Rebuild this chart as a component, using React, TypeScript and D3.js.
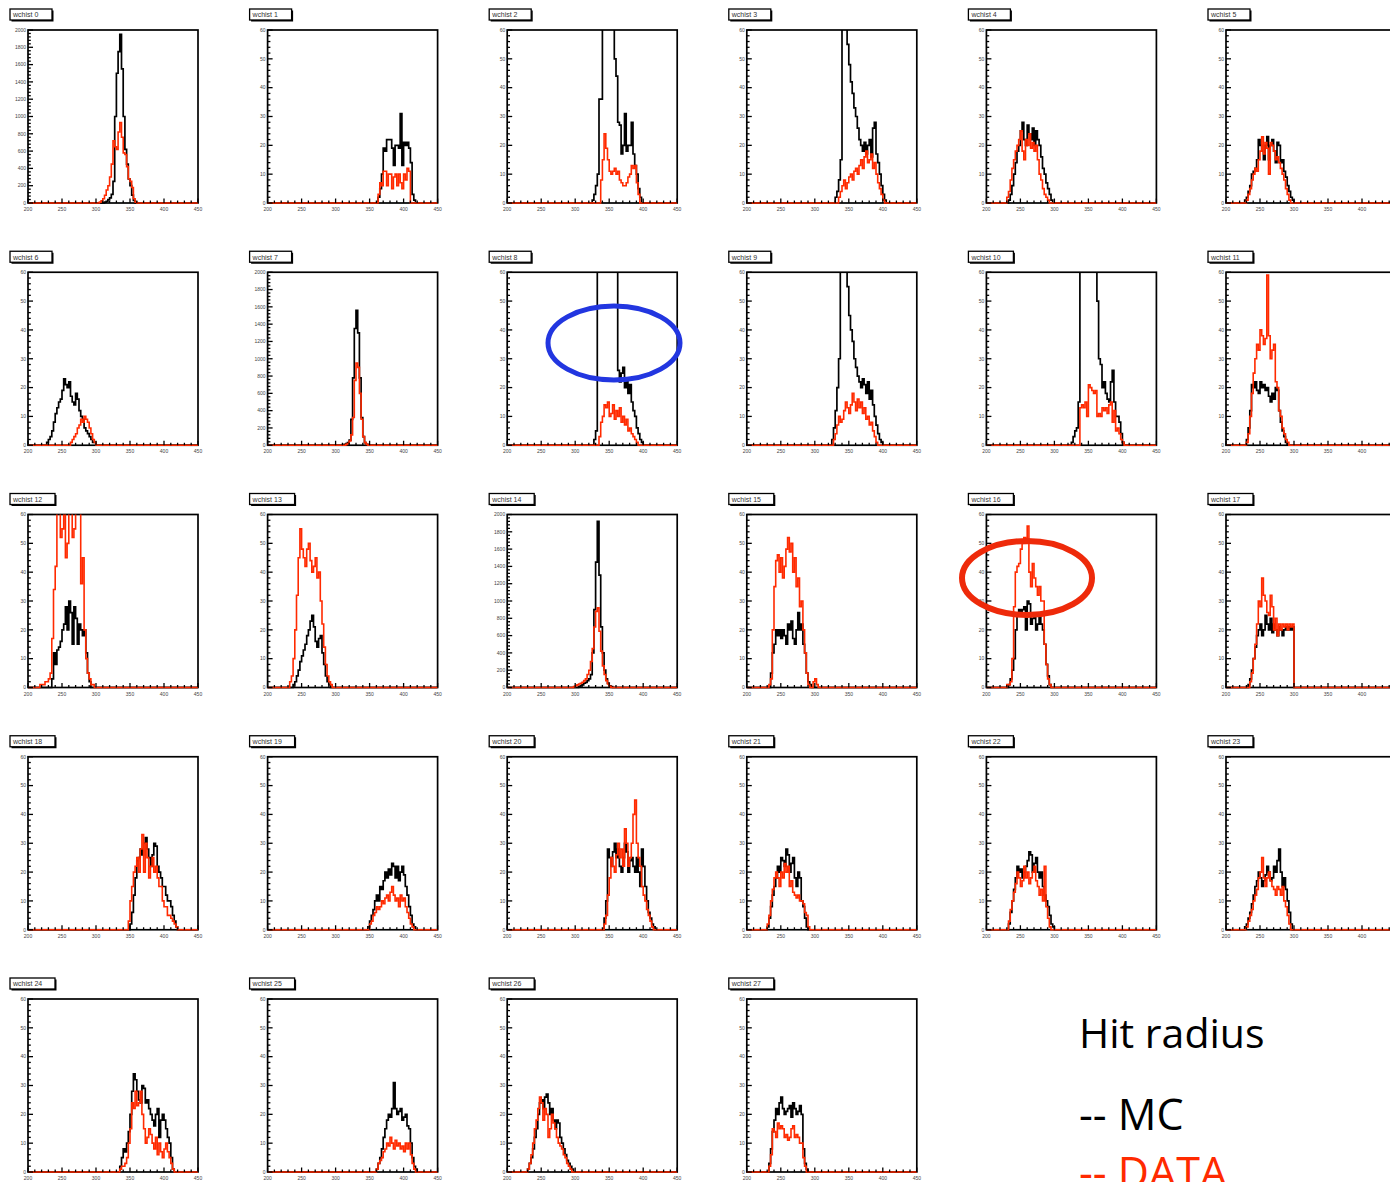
import React from "react";
import * as d3 from "d3";

const panelTitles = [
  "wchist 0", "wchist 1", "wchist 2", "wchist 3", "wchist 4", "wchist 5",
  "wchist 6", "wchist 7", "wchist 8", "wchist 9", "wchist 10", "wchist 11",
  "wchist 12", "wchist 13", "wchist 14", "wchist 15", "wchist 16", "wchist 17",
  "wchist 18", "wchist 19", "wchist 20", "wchist 21", "wchist 22", "wchist 23",
  "wchist 24", "wchist 25", "wchist 26", "wchist 27",
];

const yMaxes = [
  2000, 60, 60, 60, 60, 60,
  60, 2000, 60, 60, 60, 60,
  60, 60, 2000, 60, 60, 60,
  60, 60, 60, 60, 60, 60,
  60, 60, 60, 60,
];

const xTicks = [200, 250, 300, 350, 400, 450];
const yTicksCount = [0, 10, 20, 30, 40, 50, 60];
const yTicksLarge = [0, 200, 400, 600, 800, 1000, 1200, 1400, 1600, 1800, 2000];

const mcStarts = [
  312.5, 362.5, 325, 330, 232.5, 227.5,
  227.5, 312.5, 327.5, 325, 325, 230,
  235, 237.5, 305, 235, 232.5, 232.5,
  350, 347.5, 342.5, 230, 232.5, 227.5,
  335, 360, 230, 232.5,
];

const mcCounts = [
  [10, 20, 40, 60, 100, 250, 1000, 1500, 1750, 1950, 1550, 1000, 620, 450, 280, 200, 90, 30, 5],
  [2, 5, 10, 19, 18, 22, 22, 22, 19, 13, 20, 20, 19, 31, 13, 21, 20, 21, 19, 14, 3, 1],
  [1, 3, 6, 10, 36, 36, 90, 90, 90, 90, 90, 90, 90, 50, 44, 28, 27, 17, 20, 31, 18, 20, 20, 28, 17, 13, 10, 5, 2],
  [2, 4, 8, 15, 80, 80, 80, 55, 48, 42, 38, 33, 30, 26, 22, 20, 18, 21, 17, 20, 22, 16, 26, 28, 17, 14, 10, 6, 3, 1],
  [1, 3, 6, 10, 14, 18, 20, 25, 28, 22, 20, 27, 24, 22, 26, 20, 25, 22, 20, 16, 12, 10, 7, 5, 3, 1],
  [1, 2, 4, 6, 10, 11, 12, 15, 22, 20, 18, 15, 20, 23, 15, 20, 22, 18, 14, 21, 20, 14, 15, 11, 9, 6, 4, 2, 1],
  [1, 2, 3, 5, 8, 11, 13, 15, 16, 19, 23, 21, 20, 22, 17, 15, 14, 18, 16, 12, 10, 9, 6, 5, 4, 3, 2, 1, 1],
  [10, 20, 30, 60, 300, 780, 1350, 1560, 1300, 780, 320, 100, 30, 10],
  [2, 5, 90, 90, 90, 90, 90, 90, 90, 90, 90, 90, 90, 90, 26, 22, 25, 27, 20, 23, 18, 21, 15, 12, 10, 6, 4, 2, 1],
  [2, 6, 12, 20, 30, 70, 80, 80, 80, 55, 45, 40, 36, 30, 27, 24, 22, 20, 23, 21, 18, 22, 16, 19, 14, 10, 7, 4, 2, 1],
  [1, 3, 5, 6, 15, 90, 90, 90, 90, 90, 90, 90, 90, 90, 90, 50, 30, 28, 20, 22, 18, 16, 15, 22, 26, 15, 10, 10, 8, 4, 1],
  [2, 6, 12, 21, 20, 22, 19, 18, 22, 20, 21, 19, 20, 17, 15, 18, 16, 20, 19, 12, 8, 5, 3, 1],
  [3, 12, 8, 13, 14, 16, 20, 22, 28, 20, 30, 26, 15, 28, 24, 15, 22, 20, 18, 20, 12, 5, 2],
  [1, 2, 4, 6, 9, 11, 13, 15, 18, 20, 23, 25, 21, 16, 14, 17, 18, 12, 8, 4, 2, 1],
  [10, 20, 30, 50, 60, 80, 100, 150, 400, 900, 1450, 1920, 1300, 700, 400, 200, 100, 50, 20, 10],
  [5, 12, 15, 20, 18, 20, 17, 20, 18, 15, 22, 20, 23, 17, 15, 20, 26, 20, 22, 15, 12, 5, 2, 1],
  [1, 3, 6, 10, 20, 25, 27, 25, 27, 28, 20, 30, 29, 22, 24, 25, 20, 22, 25, 22, 20, 15, 8, 4, 1],
  [1, 3, 6, 10, 14, 18, 20, 22, 18, 20, 25, 22, 20, 24, 19, 22, 20, 18, 21, 20, 18, 20, 21, 20, 21, 20, 21],
  [2, 6, 12, 18, 24, 25, 28, 26, 30, 32, 28, 25, 22, 26, 30, 29, 22, 20, 18, 15, 15, 12, 10, 10, 8, 5, 3, 1],
  [1, 3, 5, 7, 10, 12, 10, 15, 14, 17, 20, 18, 21, 19, 23, 22, 18, 22, 17, 20, 22, 19, 15, 12, 8, 5, 2, 1],
  [4, 10, 28, 25, 22, 27, 30, 25, 28, 22, 20, 25, 30, 27, 20, 24, 25, 22, 20, 25, 20, 15, 28, 22, 15, 10, 6, 4, 2, 1],
  [1, 4, 8, 12, 15, 18, 22, 20, 25, 24, 22, 28, 26, 20, 23, 25, 18, 15, 20, 18, 10, 8, 4, 1],
  [2, 6, 10, 14, 18, 22, 20, 21, 18, 20, 22, 24, 27, 26, 20, 23, 25, 20, 18, 20, 15, 12, 10, 8, 5, 2, 1],
  [1, 2, 4, 6, 9, 12, 15, 17, 20, 18, 15, 17, 19, 22, 20, 17, 18, 22, 20, 24, 28, 20, 15, 18, 14, 10, 6, 2],
  [2, 5, 8, 7, 10, 14, 20, 28, 34, 32, 28, 25, 24, 30, 29, 24, 25, 22, 20, 18, 16, 20, 22, 12, 18, 20, 18, 15, 12, 10, 5, 1],
  [1, 3, 5, 8, 12, 15, 18, 20, 19, 22, 31, 22, 20, 21, 22, 18, 19, 20, 16, 15, 10, 5, 2, 1],
  [1, 3, 5, 8, 12, 15, 20, 24, 25, 22, 26, 27, 24, 20, 22, 18, 15, 18, 17, 12, 10, 8, 6, 4, 3, 2, 1],
  [3, 8, 14, 18, 22, 20, 24, 26, 22, 20, 21, 22, 23, 19, 24, 22, 20, 21, 23, 20, 8, 3, 1],
];

const dataStarts = [
  305, 362.5, 337.5, 335, 230, 230,
  262.5, 315, 335, 327.5, 337.5, 230,
  217.5, 232.5, 297.5, 232.5, 230, 235,
  347.5, 350, 342.5, 230, 232.5, 230,
  335, 360, 230, 232.5,
];

const dataCounts = [
  [10, 25, 50, 90, 150, 200, 300, 450, 720, 650, 620, 820, 930, 760, 580, 560, 420, 280, 250, 180, 50, 10],
  [3, 7, 6, 11, 11, 6, 10, 10, 5, 9, 10, 6, 10, 7, 5, 10, 8, 12, 11, 0],
  [8, 15, 24, 19, 15, 11, 10, 11, 12, 10, 11, 8, 7, 6, 6, 7, 9, 10, 13, 12, 13, 7, 3],
  [2, 4, 6, 8, 5, 7, 9, 10, 8, 11, 12, 10, 13, 15, 12, 16, 18, 14, 15, 17, 12, 14, 10, 7, 5, 3, 1],
  [2, 4, 8, 12, 15, 18, 20, 22, 25, 18, 15, 22, 20, 24, 19, 21, 18, 20, 15, 10, 8, 5, 3, 2, 1],
  [1, 3, 5, 8, 10, 12, 11, 15, 18, 23, 17, 21, 19, 10, 21, 20, 18, 15, 16, 14, 12, 10, 8, 5, 3, 1],
  [1, 2, 3, 4, 6, 7, 9, 8, 10, 9, 8, 6, 4, 2, 1],
  [10, 20, 50, 120, 320, 750, 950, 900, 600, 300, 100, 30, 10],
  [3, 8, 10, 14, 13, 15, 10, 11, 14, 9, 12, 10, 13, 8, 10, 7, 9, 5, 6, 4, 3, 2, 1],
  [2, 4, 7, 10, 8, 9, 12, 15, 13, 11, 14, 18, 15, 12, 16, 13, 15, 11, 13, 9, 10, 7, 8, 5, 3, 1],
  [13, 14, 13, 15, 10, 21, 20, 19, 18, 19, 10, 11, 10, 13, 12, 13, 11, 14, 15, 8, 12, 5, 6, 4, 2, 1],
  [1, 4, 10, 18, 25, 30, 35, 33, 40, 38, 35, 37, 59, 38, 30, 33, 35, 22, 20, 12, 10, 6, 4, 2, 1],
  [1, 1, 1, 2, 2, 3, 5, 17, 34, 42, 62, 65, 52, 55, 70, 45, 50, 62, 65, 52, 55, 66, 70, 64, 36, 45, 20, 10, 5, 3, 1, 1],
  [2, 4, 10, 20, 32, 45, 55, 48, 45, 42, 48, 50, 44, 40, 42, 45, 38, 40, 30, 22, 14, 8, 4, 2, 1],
  [10, 20, 30, 40, 50, 60, 80, 100, 150, 200, 300, 450, 700, 880, 920, 650, 420, 250, 150, 80, 40, 15],
  [1, 3, 20, 35, 44, 46, 40, 45, 38, 42, 48, 52, 47, 50, 40, 45, 35, 38, 28, 30, 20, 12, 5, 1, 0, 0, 2, 3, 1],
  [1, 1, 2, 10, 28, 40, 42, 43, 48, 50, 52, 50, 56, 40, 35, 43, 38, 35, 32, 35, 30, 30, 15, 8, 3, 1],
  [2, 5, 10, 15, 22, 30, 28, 38, 32, 30, 26, 25, 32, 28, 20, 24, 18, 22, 20, 22, 21, 22, 20, 22, 21, 22],
  [3, 10, 15, 20, 22, 25, 20, 28, 33, 20, 30, 25, 18, 22, 25, 20, 22, 18, 15, 15, 10, 8, 8, 5, 5, 4, 3, 2, 1],
  [2, 3, 5, 6, 8, 7, 8, 10, 9, 11, 12, 10, 13, 15, 12, 10, 11, 8, 12, 10, 11, 8, 6, 4, 2, 1],
  [2, 5, 12, 18, 25, 22, 20, 26, 30, 25, 28, 22, 35, 30, 22, 25, 30, 40, 45, 30, 25, 22, 15, 12, 10, 7, 5, 3, 1],
  [2, 5, 10, 14, 18, 20, 18, 15, 20, 18, 23, 20, 22, 15, 17, 13, 12, 11, 12, 10, 10, 9, 6, 5, 1],
  [3, 7, 10, 13, 16, 20, 18, 15, 17, 22, 18, 20, 16, 18, 20, 22, 17, 15, 12, 14, 10, 22, 8, 4, 1],
  [1, 3, 5, 7, 10, 12, 14, 18, 20, 25, 18, 15, 18, 20, 17, 15, 14, 12, 15, 14, 12, 15, 10, 8, 5, 2],
  [1, 2, 2, 3, 5, 10, 15, 24, 22, 28, 23, 24, 28, 20, 15, 10, 12, 15, 13, 10, 8, 12, 6, 10, 7, 5, 8, 10, 7, 5, 3, 1],
  [1, 3, 4, 5, 7, 8, 10, 9, 12, 10, 8, 11, 9, 10, 8, 9, 7, 10, 8, 10, 6, 3, 1],
  [1, 3, 6, 10, 15, 18, 22, 26, 24, 18, 22, 20, 12, 15, 20, 17, 15, 12, 10, 9, 8, 6, 5, 3, 2, 1],
  [2, 6, 15, 14, 12, 17, 15, 16, 15, 12, 13, 11, 12, 15, 16, 12, 13, 12, 10, 10, 5, 2],
];

const legendLines = ["Hit radius", "-- MC", "-- DATA"];

const X_MIN = 200;
const X_MAX = 450;
const BIN = 2.5;
const N_BINS = 100;

const LEFT0 = 28;
const COL_W = 239.6;
const TOP0 = 30;
const ROW_H = 242.25;
const FW = 170;
const FH = 173;
const RED = "#ff2a00";

function binsFrom(start: number, vals: number[]): number[] {
  const out = new Array(N_BINS).fill(0);
  const off = Math.round((start - X_MIN) / BIN);
  vals.forEach((v, i) => {
    const k = off + i;
    if (k >= 0 && k < N_BINS) out[k] = v;
  });
  return out;
}

function histPath(bins: number[], xs: d3.ScaleLinear<number, number>, ys: d3.ScaleLinear<number, number>) {
  const pts: [number, number][] = [[X_MIN, 0]];
  bins.forEach((v, i) => {
    const x0 = X_MIN + i * BIN;
    pts.push([x0, v], [x0 + BIN, v]);
  });
  pts.push([X_MAX, 0]);
  const line = d3
    .line<[number, number]>()
    .x((d) => xs(d[0]))
    .y((d) => ys(d[1]));
  return line(pts) || "";
}

function Panel({ idx }: { idx: number }) {
  const col = idx % 6;
  const row = Math.floor(idx / 6);
  const left = LEFT0 + col * COL_W;
  const top = TOP0 + row * ROW_H;
  const yMax = yMaxes[idx];
  const xs = d3.scaleLinear().domain([X_MIN, X_MAX]).range([left, left + FW]);
  const ys = d3.scaleLinear().domain([0, yMax]).range([top + FH, top]);
  const large = yMax > 100;
  const yMajor = large ? yTicksLarge : yTicksCount;
  const minorStep = large ? 40 : 2;
  const yMinor = d3.range(0, yMax + 0.001, minorStep);
  const xMinor = d3.range(X_MIN, X_MAX + 0.001, 10);
  const mcBins = binsFrom(mcStarts[idx], mcCounts[idx]);
  const dataBins = binsFrom(dataStarts[idx], dataCounts[idx]);
  const clipId = `clip${idx}`;
  const title = panelTitles[idx];
  const tw = title.length > 8 ? 45 : 42;
  const tx = left - 18;
  const ty = top - 21;
  return (
    <g>
      <defs>
        <clipPath id={clipId}>
          <rect x={left - 1} y={top} width={FW + 2} height={FH + 3} />
        </clipPath>
      </defs>
      <rect x={tx + 1.5} y={ty + 1.5} width={tw} height={11} fill="#000" />
      <rect x={tx} y={ty} width={tw} height={11} fill="#fff" stroke="#000" strokeWidth={1.3} />
      <text x={tx + 3} y={ty + 8.3} fontSize={7} fontFamily="Liberation Sans, Arial, sans-serif" fill="#333">
        {title}
      </text>
      <rect x={left} y={top} width={FW} height={FH} fill="#fff" stroke="#000" strokeWidth={1.7} />
      <g clipPath={`url(#${clipId})`}>
        <path d={histPath(mcBins, xs, ys)} fill="none" stroke="#000" strokeWidth={1.7} />
        <path d={histPath(dataBins, xs, ys)} fill="none" stroke={RED} strokeWidth={1.6} />
      </g>
      {yMinor.map((v) => {
        const isMajor = yMajor.includes(Math.round(v));
        return (
          <line
            key={`ym${v}`}
            x1={left}
            x2={left + (isMajor ? 5 : 2.8)}
            y1={ys(v)}
            y2={ys(v)}
            stroke="#000"
            strokeWidth={1.3}
          />
        );
      })}
      {yMajor.map((v) => (
        <text
          key={`yl${v}`}
          x={left - 2}
          y={ys(v)}
          dy="0.35em"
          textAnchor="end"
          fontSize={5}
          fontFamily="Liberation Sans, Arial, sans-serif"
          fill="#444"
        >
          {v}
        </text>
      ))}
      {xMinor.map((v) => {
        const isMajor = xTicks.includes(v);
        return (
          <line
            key={`xm${v}`}
            x1={xs(v)}
            x2={xs(v)}
            y1={top + FH}
            y2={top + FH - (isMajor ? 4.5 : 2.5)}
            stroke="#000"
            strokeWidth={1.3}
          />
        );
      })}
      {xTicks.map((v) => (
        <text
          key={`xl${v}`}
          x={xs(v)}
          y={top + FH + 8}
          textAnchor="middle"
          fontSize={5}
          fontFamily="Liberation Sans, Arial, sans-serif"
          fill="#444"
        >
          {v}
        </text>
      ))}
    </g>
  );
}

export default function App() {
  return (
    <svg
      width={1390}
      height={1182}
      viewBox="0 0 1390 1182"
      style={{ position: "absolute", left: 0, top: 0, background: "#fff", display: "block" }}
    >
      <rect x={0} y={0} width={1390} height={1182} fill="#fff" />
      {panelTitles.map((_, i) => (
        <Panel key={i} idx={i} />
      ))}
      <ellipse cx={614} cy={343} rx={66} ry={37} fill="none" stroke="#2236e0" strokeWidth={5} />
      <ellipse cx={1027} cy={578} rx={65} ry={37} fill="none" stroke="#ee2a0a" strokeWidth={6} />
      <text x={1079} y={1048} fontSize={41} fontFamily="Open Sans, sans-serif" fill="#000">
        {legendLines[0]}
      </text>
      <text x={1079} y={1130} fontSize={43} fontFamily="Open Sans, sans-serif" fill="#000">
        {legendLines[1]}
      </text>
      <text x={1079} y={1188} fontSize={43} fontFamily="Open Sans, sans-serif" fill={RED}>
        {legendLines[2]}
      </text>
    </svg>
  );
}
